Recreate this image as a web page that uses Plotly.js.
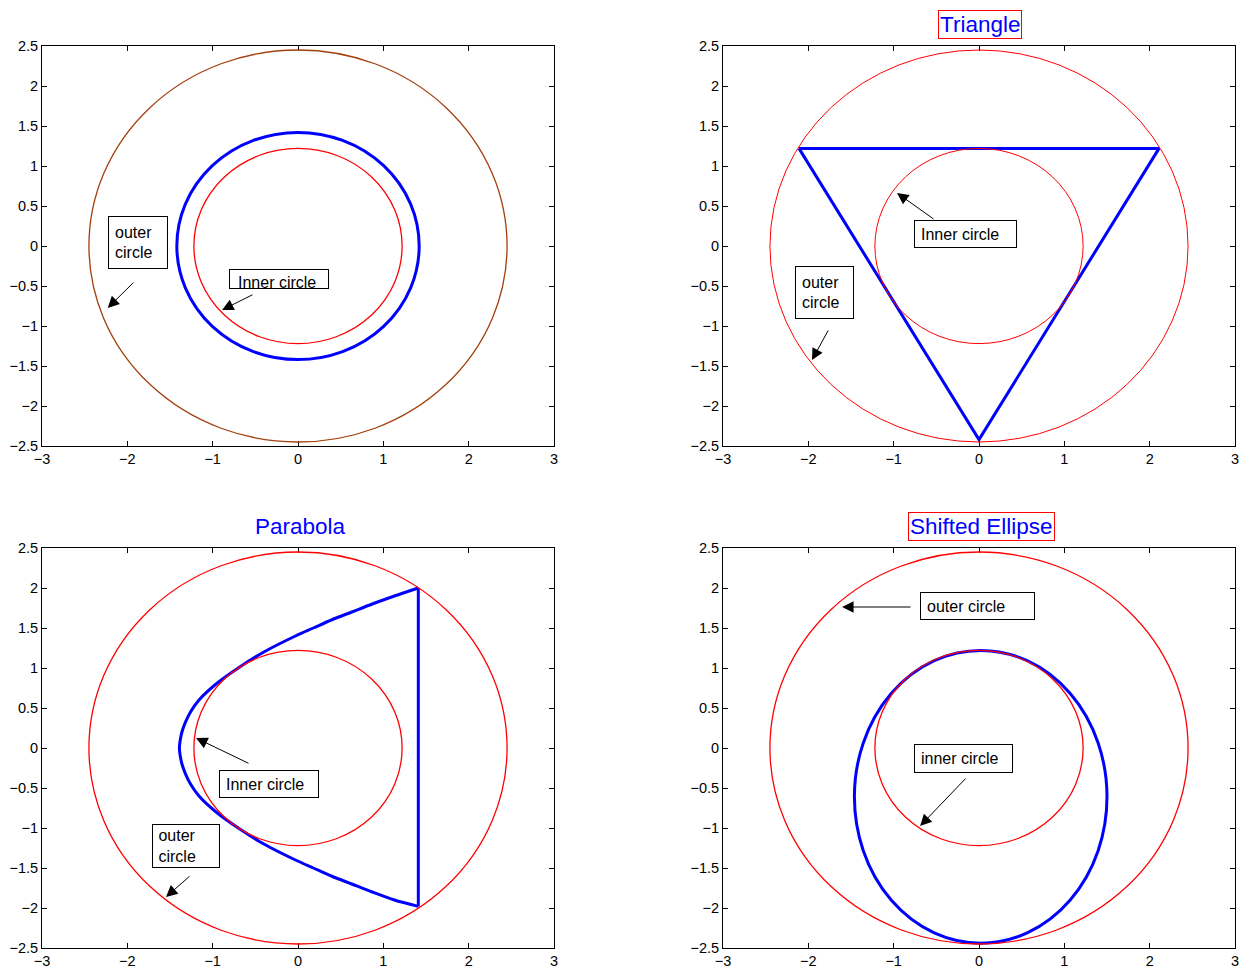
<!DOCTYPE html>
<html>
<head>
<meta charset="utf-8">
<script src="https://cdn.plot.ly/plotly-3.0.1.min.js"></script>
<style>html,body{margin:0;padding:0;background:#fff;}#chart{width:1251px;height:973px;}</style>
</head>
<body>
<div id="chart"></div>
<script>
// ---- data ----
const xTicks = [-3, -2, -1, 0, 1, 2, 3];
const yTicks = [-2.5, -2, -1.5, -1, -0.5, 0, 0.5, 1, 1.5, 2, 2.5];
const outerRadius = [2.45, 2.45, 2.45, 2.45];
const innerRadius = [1.22, 1.22, 1.22, 1.22];
const blueCircleRadius = [1.42];
const triangleX = [-2.11, 2.11, 0, -2.11];
const triangleY = [1.22, 1.22, -2.42, 1.22];
const parabolaX = [1.41, 1.13, 0.87, 0.63, 0.39, 0.18, -0.03, -0.40, -0.70, -0.96, -1.16, -1.26, -1.32, -1.36, -1.38, -1.39, -1.38, -1.36, -1.32, -1.26, -1.16, -0.96, -0.70, -0.40, -0.03, 0.18, 0.39, 0.63, 0.87, 1.13, 1.41];
const parabolaY = [2.0, 1.9, 1.8, 1.7, 1.6, 1.5, 1.4, 1.2, 1.0, 0.8, 0.6, 0.45, 0.32, 0.2, 0.1, 0, -0.1, -0.2, -0.32, -0.45, -0.6, -0.8, -1.0, -1.2, -1.4, -1.5, -1.6, -1.7, -1.8, -1.9, -1.98];
const parabolaSideX = [1.41, 1.41];
const parabolaSideY = [-1.98, 2.0];
const ellipseX = [-1.46, 1.50];
const ellipseY = [-2.44, 1.22];

const FONT = 'Liberation Sans, Arial, sans-serif';
const BLUE = '#0000ff';
const RED = '#ff0000';
const BROWN = '#a33f0c';

const traces = [
  {x: triangleX, y: triangleY, xaxis: 'x2', yaxis: 'y2', mode: 'lines', line: {color: BLUE, width: 3}, hoverinfo: 'skip'},
  {x: parabolaX, y: parabolaY, xaxis: 'x3', yaxis: 'y3', mode: 'lines', line: {color: BLUE, width: 3, shape: 'spline', smoothing: 0.8}, hoverinfo: 'skip'},
  {x: parabolaSideX, y: parabolaSideY, xaxis: 'x3', yaxis: 'y3', mode: 'lines', line: {color: BLUE, width: 3}, hoverinfo: 'skip'}
];

function circle(ax, r, color, width) {
  const s = ax === 1 ? '' : ax;
  return {type: 'circle', xref: 'x' + s, yref: 'y' + s, x0: -r, x1: r, y0: -r, y1: r,
          line: {color: color, width: width}, layer: 'above'};
}
const shapes = [
  circle(1, blueCircleRadius[0], BLUE, 3),
  {type: 'circle', xref: 'x4', yref: 'y4', x0: ellipseX[0], x1: ellipseX[1], y0: ellipseY[0], y1: ellipseY[1], line: {color: BLUE, width: 3}, layer: 'above'},
  circle(1, outerRadius[0], BROWN, 1.3), circle(1, innerRadius[0], RED, 1.3),
  circle(2, outerRadius[1], RED, 1), circle(2, innerRadius[1], RED, 1),
  circle(3, outerRadius[2], RED, 1.3), circle(3, innerRadius[2], RED, 1.3),
  circle(4, outerRadius[3], RED, 1.3), circle(4, innerRadius[3], RED, 1.3)
];

function axis(domain, anchor, vals, range) {
  return {domain: domain, anchor: anchor, range: range, tickvals: vals, ticktext: vals.map(v => String(v).replace('-', '\u2212')),
    ticks: 'inside', ticklen: 5, tickcolor: '#000', showline: true, linecolor: '#000', linewidth: 1, mirror: 'ticks',
    showgrid: false, zeroline: false, tickfont: {family: FONT, size: 14.5, color: '#000'}, fixedrange: true};
}
const xd1 = [42/1251, 554/1251], xd2 = [723/1251, 1235/1251];
const yd1 = [1 - 446/973, 1 - 46/973], yd2 = [1 - 948/973, 1 - 548/973];

// W,H: full box size in pixels; pad: inner padding
function box(ax, x, y, text, W, H, pad) {
  const s = ax === 1 ? '' : ax;
  return {xref: 'x' + s, yref: 'y' + s, x: x, y: y, text: text, showarrow: false, align: 'left',
    width: W - 2 * (pad + 1), height: H - 2 * (pad + 1), bordercolor: '#000', borderwidth: 1, borderpad: pad, bgcolor: '#fff',
    font: {family: FONT, size: 16, color: '#000'}};
}
function label(ax, x, y, text) {
  const s = ax === 1 ? '' : ax;
  return {xref: 'x' + s, yref: 'y' + s, x: x, y: y, text: text, showarrow: false, xanchor: 'center', yanchor: 'middle',
    font: {family: FONT, size: 16, color: '#000'}};
}
function arrow(ax, tx, ty, hx, hy) {
  const s = ax === 1 ? '' : ax;
  return {xref: 'x' + s, yref: 'y' + s, axref: 'x' + s, ayref: 'y' + s, x: hx, y: hy, ax: tx, ay: ty,
    text: '', showarrow: true, arrowhead: 2, arrowsize: 2.3, arrowwidth: 1, arrowcolor: '#000', standoff: 0, startstandoff: 0};
}
function title(x, y, text, boxed) {
  return {xref: 'paper', yref: 'paper', x: x, y: y, text: text, showarrow: false, xanchor: 'center', yanchor: 'middle',
    font: {family: FONT, size: 22.5, color: BLUE}, bordercolor: boxed ? RED : 'rgba(0,0,0,0)', borderwidth: 1, borderpad: 1};
}

const annotations = [
  box(1, -1.875, 0.0375, 'outer<br>circle', 60, 53, 6), arrow(1, -1.91, -0.4375, -2.23, -0.775),
  box(1, -0.223, -0.4125, ' ', 100, 20, 1), label(1, -0.25, -0.46, 'Inner circle'), arrow(1, -0.516, -0.6, -0.89, -0.8),
  box(2, -0.164, 0.15, 'Inner circle', 103, 28, 6), arrow(2, -0.516, 0.325, -0.961, 0.6625),
  box(2, -1.816, -0.5875, 'outer<br>circle', 59, 53, 6), arrow(2, -1.758, -1.0375, -1.957, -1.425),
  box(3, -0.34, -0.45, 'Inner circle', 100, 28, 6), arrow(3, -0.5625, -0.2, -1.195, 0.125),
  box(3, -1.3125, -1.225, '&nbsp;outer<br>&nbsp;circle', 68, 44, 1), arrow(3, -1.254, -1.5875, -1.547, -1.8625),
  box(4, -0.012, 1.775, 'outer circle', 115, 28, 6), arrow(4, -0.785, 1.7625, -1.605, 1.7625),
  box(4, -0.1875, -0.125, 'inner circle', 99, 29, 6), arrow(4, -0.14, -0.3625, -0.69, -0.975),
  title(980/1251, 1 - 24/973, 'Triangle', true),
  title(300/1251, 1 - 526/973, 'Parabola', false),
  title(981/1251, 1 - 526/973, 'Shifted Ellipse', true)
];

const layout = {
  width: 1251, height: 973, margin: {l: 0, r: 0, t: 0, b: 0}, paper_bgcolor: '#fff', plot_bgcolor: '#fff',
  showlegend: false, font: {family: FONT},
  xaxis: axis(xd1, 'y', xTicks, [-3, 3]), yaxis: axis(yd1, 'x', yTicks, [-2.5, 2.5]),
  xaxis2: axis(xd2, 'y2', xTicks, [-3, 3]), yaxis2: axis(yd1, 'x2', yTicks, [-2.5, 2.5]),
  xaxis3: axis(xd1, 'y3', xTicks, [-3, 3]), yaxis3: axis(yd2, 'x3', yTicks, [-2.5, 2.5]),
  xaxis4: axis(xd2, 'y4', xTicks, [-3, 3]), yaxis4: axis(yd2, 'x4', yTicks, [-2.5, 2.5]),
  shapes: shapes, annotations: annotations
};
Plotly.newPlot('chart', traces, layout, {staticPlot: true, displayModeBar: false});
</script>
</body>
</html>
